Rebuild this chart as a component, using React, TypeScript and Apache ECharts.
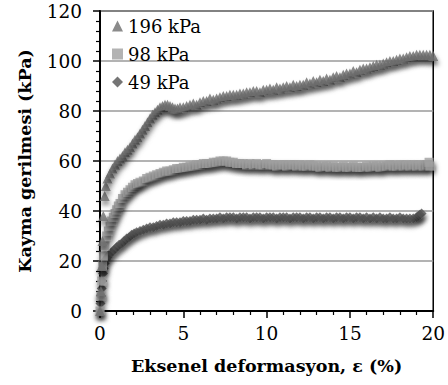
import React, { useEffect, useRef } from "react";
import * as echarts from "echarts";

const seriesNames = ["196 kPa", "98 kPa", "49 kPa"];
const xTicks = { min: 0, max: 20, interval: 5 };
const yTicks = { min: 0, max: 120, interval: 20 };

// Eksenel deformasyon (%), Kayma gerilmesi (kPa)
const s196: [number, number][] = [
  [0, 0], [0.05, 8], [0.1, 18], [0.15, 28], [0.2, 38], [0.28, 46], [0.35, 50], [0.45, 53], [0.6, 55], [0.75, 57],
  [0.9, 58.5], [1.05, 60], [1.2, 61], [1.35, 62], [1.5, 63.5], [1.65, 64.5], [1.8, 65.5], [1.95, 67], [2.1, 68.5],
  [2.25, 69.5], [2.4, 71], [2.55, 72.5], [2.7, 74], [2.85, 75.5], [3.0, 77], [3.15, 78.5], [3.3, 79.5], [3.45, 80.5],
  [3.6, 81.5], [3.75, 82], [3.9, 82.5], [4.05, 82.5], [4.2, 82], [4.35, 81.5], [4.5, 81], [4.65, 81], [4.8, 81.5],
  [5.0, 81.5], [5.2, 82], [5.4, 82.5], [5.6, 83], [5.8, 82.5], [6.0, 83.5], [6.2, 84], [6.4, 84], [6.6, 85],
  [6.8, 84.5], [7.0, 85], [7.2, 85.5], [7.4, 86], [7.6, 86], [7.8, 86.5], [8.0, 86.5], [8.2, 86.5], [8.4, 87],
  [8.6, 87], [8.8, 87.5], [9.0, 87.5], [9.2, 88], [9.4, 88], [9.6, 87.5], [9.8, 88.5], [10.0, 88.5], [10.2, 89],
  [10.4, 88.5], [10.6, 89.5], [10.8, 89], [11.0, 89.5], [11.2, 90], [11.4, 89.5], [11.6, 90.5], [11.8, 90],
  [12.0, 90.5], [12.2, 90.5], [12.4, 91.5], [12.6, 91], [12.8, 92], [13.0, 91.5], [13.2, 92.5], [13.4, 92],
  [13.6, 93], [13.8, 92.5], [14.0, 93.5], [14.2, 94], [14.4, 93.5], [14.6, 94.5], [14.8, 95], [15.0, 95],
  [15.2, 96], [15.4, 95.5], [15.6, 96.5], [15.8, 97], [16.0, 97], [16.2, 97.5], [16.4, 98], [16.6, 98.5],
  [16.8, 98.5], [17.0, 99], [17.2, 99.5], [17.4, 100], [17.6, 100], [17.8, 100.5], [18.0, 101], [18.2, 101],
  [18.4, 101.5], [18.6, 102], [18.8, 102], [19.0, 102.5], [19.2, 102.5], [19.4, 102.5], [19.6, 102.5],
  [19.8, 102.5], [20.0, 102]
];

const s98: [number, number][] = [
  [0, 0], [0.05, 6], [0.1, 12], [0.15, 18], [0.2, 22], [0.3, 26], [0.4, 30], [0.5, 32], [0.6, 34], [0.7, 36],
  [0.8, 37.5], [0.9, 39], [1.0, 40.5], [1.1, 42], [1.2, 43], [1.35, 45], [1.5, 46.5], [1.65, 47.5], [1.8, 48.5],
  [1.95, 49.5], [2.1, 50.5], [2.25, 51], [2.4, 51.5], [2.6, 52], [2.8, 53], [3.0, 53.5], [3.2, 54], [3.4, 54.5],
  [3.6, 55], [3.8, 55.5], [4.0, 56], [4.2, 56], [4.4, 56.5], [4.6, 57], [4.8, 57], [5.0, 57.5], [5.2, 57.5],
  [5.4, 58], [5.6, 58], [5.8, 58.5], [6.0, 58.5], [6.2, 59], [6.4, 59], [6.6, 59], [6.8, 59.5], [7.0, 59.5],
  [7.2, 60], [7.4, 60], [7.6, 60], [7.8, 59.5], [8.0, 59.5], [8.2, 59], [8.4, 59], [8.6, 59], [8.8, 58.5],
  [9.0, 59], [9.2, 58.5], [9.4, 59], [9.6, 58.5], [9.8, 58.5], [10.0, 59], [10.2, 58.5], [10.4, 58.5],
  [10.6, 58], [10.8, 58.5], [11.0, 58.5], [11.2, 58], [11.4, 58.5], [11.6, 58.5], [11.8, 58], [12.0, 58.5],
  [12.2, 58], [12.4, 58], [12.6, 58.5], [12.8, 58], [13.0, 58], [13.2, 57.5], [13.4, 58], [13.6, 58],
  [13.8, 57.5], [14.0, 58], [14.2, 57.5], [14.4, 57.5], [14.6, 58], [14.8, 57.5], [15.0, 57.5], [15.2, 58],
  [15.4, 57.5], [15.6, 57.5], [15.8, 57.5], [16.0, 58], [16.2, 57.5], [16.4, 58], [16.6, 58], [16.8, 57.5],
  [17.0, 58], [17.2, 58], [17.4, 58.5], [17.6, 58], [17.8, 58], [18.0, 58.5], [18.2, 58], [18.4, 58.5],
  [18.6, 58], [18.8, 58.5], [19.0, 58], [19.2, 58.5], [19.4, 58], [19.6, 58.5], [19.75, 59.5], [19.8, 58]
];

const s49: [number, number][] = [
  [0, 0], [0.03, 3], [0.06, 6], [0.1, 9], [0.14, 12], [0.18, 15], [0.22, 17], [0.28, 19], [0.35, 20.5],
  [0.45, 21.5], [0.55, 22.5], [0.7, 23.5], [0.85, 24.5], [1.0, 25.5], [1.15, 26.5], [1.3, 27], [1.45, 28],
  [1.6, 29], [1.75, 29.5], [1.9, 30.5], [2.05, 31], [2.2, 31.5], [2.4, 32], [2.6, 32.5], [2.8, 33],
  [3.0, 33.5], [3.2, 33.5], [3.4, 34], [3.6, 34.5], [3.8, 34.5], [4.0, 35], [4.2, 35], [4.4, 35.5],
  [4.6, 35.5], [4.8, 35.5], [5.0, 36], [5.2, 36], [5.4, 36], [5.6, 36.5], [5.8, 36.5], [6.0, 36.5],
  [6.2, 37], [6.4, 36.5], [6.6, 37], [6.8, 37], [7.0, 37], [7.2, 37.5], [7.4, 37], [7.6, 37.5], [7.8, 37.5],
  [8.0, 37.5], [8.2, 37], [8.4, 37.5], [8.6, 37.5], [8.8, 37.5], [9.0, 37], [9.2, 37.5], [9.4, 37.5],
  [9.6, 37.5], [9.8, 37], [10.0, 37.5], [10.2, 37.5], [10.4, 37.5], [10.6, 37], [10.8, 37.5], [11.0, 37.5],
  [11.2, 37.5], [11.4, 37], [11.6, 37.5], [11.8, 37.5], [12.0, 37.5], [12.2, 37], [12.4, 37.5], [12.6, 37.5],
  [12.8, 37], [13.0, 37.5], [13.2, 37.5], [13.4, 37], [13.6, 37.5], [13.8, 37.5], [14.0, 37], [14.2, 37.5],
  [14.4, 37.5], [14.6, 37], [14.8, 37.5], [15.0, 37.5], [15.2, 37], [15.4, 37.5], [15.6, 37.5], [15.8, 37],
  [16.0, 37.5], [16.2, 37], [16.4, 37.5], [16.6, 37], [16.8, 37.5], [17.0, 37], [17.2, 37], [17.4, 37.5],
  [17.6, 37], [17.8, 37], [18.0, 37.5], [18.2, 37], [18.4, 37], [18.6, 37], [18.8, 37], [19.0, 37.5],
  [19.1, 38], [19.2, 38.5], [19.3, 39]
];

const seriesData = [s196, s98, s49];
const symbols = ["triangle", "rect", "diamond"];
const colors = ["#6e6e6e", "#a0a0a0", "#525252"];

const FONT = "DejaVu Serif";

export default function App() {
  const ref = useRef<HTMLDivElement>(null);
  useEffect(() => {
    if (!ref.current) return;
    const chart = echarts.init(ref.current, null, { renderer: "svg" });
    chart.setOption({
      animation: false,
      backgroundColor: "#fff",
      grid: {
        left: 100, right: 12, top: 11, bottom: 74,
        show: true, borderColor: "#000", borderWidth: 1.5, backgroundColor: "transparent"
      },
      legend: {
        orient: "vertical",
        left: 107, top: 12,
        itemWidth: 11, itemHeight: 11, itemGap: 10,
        textStyle: { fontFamily: FONT, fontSize: 18, color: "#000" },
        itemStyle: { shadowBlur: 0, shadowOffsetX: 0, shadowOffsetY: 0, shadowColor: "transparent" },
        data: seriesNames
      },
      xAxis: {
        type: "value",
        min: xTicks.min, max: xTicks.max, interval: xTicks.interval,
        name: "Eksenel deformasyon, ε (%)",
        nameLocation: "middle", nameGap: 46,
        nameTextStyle: { fontFamily: FONT, fontSize: 17.5, fontWeight: "bold", color: "#000" },
        axisLine: { lineStyle: { color: "#000", width: 2 } },
        axisTick: { show: true, inside: false, length: 7, lineStyle: { color: "#000", width: 1.5 } },
        minorTick: { show: true, splitNumber: 5, length: 4, lineStyle: { color: "#000", width: 1.2 } },
        splitLine: { show: false },
        axisLabel: { fontFamily: FONT, fontSize: 18.5, color: "#000", margin: 13 }
      },
      yAxis: {
        type: "value",
        min: yTicks.min, max: yTicks.max, interval: yTicks.interval,
        name: "Kayma gerilmesi (kPa)",
        nameLocation: "middle", nameGap: 66,
        nameTextStyle: { fontFamily: FONT, fontSize: 17.5, fontWeight: "bold", color: "#000" },
        axisLine: { show: true, lineStyle: { color: "#000", width: 2 } },
        axisTick: { show: true, inside: false, length: 7, lineStyle: { color: "#000", width: 1.5 } },
        minorTick: { show: true, splitNumber: 5, length: 4, lineStyle: { color: "#000", width: 1.2 } },
        splitLine: { show: true, lineStyle: { color: "#9a9a9a", width: 1.5 } },
        axisLabel: { fontFamily: FONT, fontSize: 18.5, color: "#000", margin: 18 }
      },
      series: seriesNames.map((name, i) => ({
        name,
        type: "scatter",
        data: seriesData[i],
        symbol: symbols[i],
        symbolSize: i === 1 ? 9 : 10,
        itemStyle: {
          color: colors[i],
          shadowBlur: 5,
          shadowColor: "rgba(0,0,0,0.6)",
          shadowOffsetX: 1,
          shadowOffsetY: 4
        },
        z: 3 - i
      }))
    });
    return () => chart.dispose();
  }, []);
  return <div ref={ref} style={{ width: 448, height: 385, position: "absolute", left: 0, top: 0 }} />;
}
